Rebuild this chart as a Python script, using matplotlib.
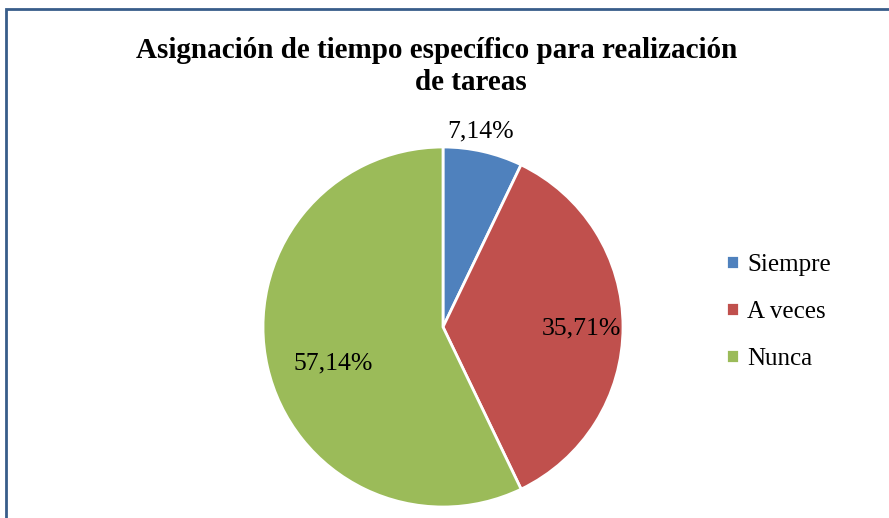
import matplotlib.pyplot as plt
from matplotlib.patches import Rectangle

categories = ["Siempre", "A veces", "Nunca"]
values = [7.14, 35.71, 57.14]
labels = ["7,14%", "35,71%", "57,14%"]
colors = ["#4f81bd", "#c0504d", "#9bbb59"]

plt.rcParams['font.family'] = ['Liberation Serif', 'DejaVu Serif']

fig = plt.figure(figsize=(8.89, 5.18), dpi=100)

# chart frame (cropped on right and bottom)
fig.patches.append(Rectangle((6 / 889, -0.1), 1.1, 1 - 9 / 518 + 0.1,
                             transform=fig.transFigure, fill=False,
                             edgecolor="#385d8a", linewidth=2))

fig.text(437 / 889, 1 - 51 / 518, "Asignación de tiempo específico para realización",
         ha="center", va="center", fontsize=21, fontweight="bold")
fig.text(471 / 889, 1 - 83 / 518, "de tareas",
         ha="center", va="center", fontsize=21, fontweight="bold")

ax = fig.add_axes([(443 - 180) / 889, (191 - 180) / 518, 360 / 889, 360 / 518])
wedges, texts = ax.pie(values, colors=colors, startangle=90, counterclock=False,
                       wedgeprops=dict(edgecolor="white", linewidth=2))
ax.set_xlim(-1, 1)
ax.set_ylim(-1, 1)

# label positions relative to pie centre
label_pos = [(0.21, 1.085), (0.77, -0.01), (-0.61, -0.2)]
for lab, (x, y) in zip(labels, label_pos):
    ax.text(x, y, lab, ha="center", va="center", fontsize=18.5)

leg = fig.legend(wedges, categories, loc="upper left",
                 bbox_to_anchor=(726 / 889, 1 - 254 / 518), frameon=False,
                 fontsize=18, handlelength=0.5, handleheight=0.5,
                 handletextpad=0.35, labelspacing=1.0,
                 borderpad=0, borderaxespad=0)

plt.savefig("out.png", dpi=100)
